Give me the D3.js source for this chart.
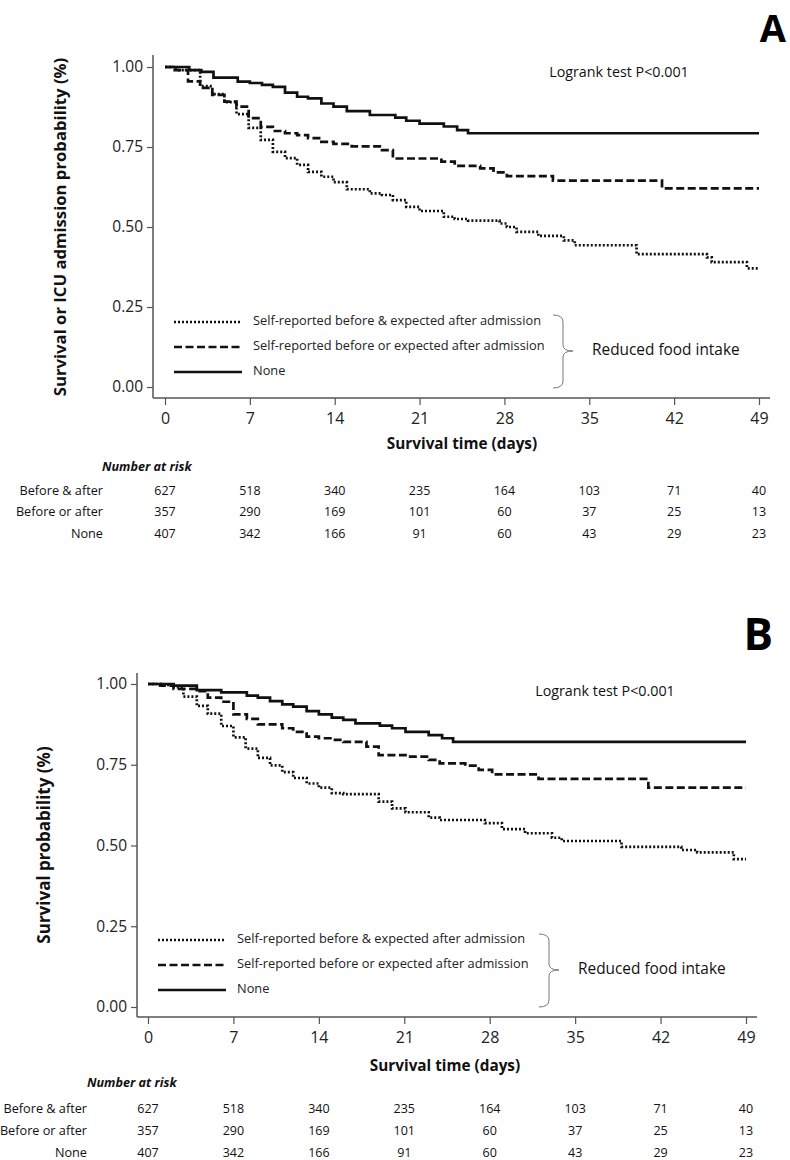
<!DOCTYPE html>
<html>
<head>
<meta charset="utf-8">
<script src="https://cdn.jsdelivr.net/npm/d3@7/dist/d3.min.js"></script>
<style>
  html, body { margin: 0; padding: 0; background: #fff; }
  svg { display: block; font-family: "Open Sans", sans-serif; }
</style>
</head>
<body>
<svg id="chart" width="790" height="1160"></svg>
<script>
// ---------- DATA ----------
const xTicks = [0, 7, 14, 21, 28, 35, 42, 49];
const yTicks = [0, 0.25, 0.5, 0.75, 1.0];
const groupLabels = ["Self-reported before & expected after admission",
                     "Self-reported before or expected after admission",
                     "None"];
const riskRowLabels = ["Before & after", "Before or after", "None"];
const riskBeforeAndAfter = [627, 518, 340, 235, 164, 103, 71, 40];
const riskBeforeOrAfter  = [357, 290, 169, 101, 60, 37, 25, 13];
const riskNone           = [407, 342, 166, 91, 60, 43, 29, 23];

// Panel A: survival or ICU admission  [day, probability]
const aBoth = [[0,1],[0.9,0.99],[2.9,0.94],[3.9,0.915],[4.9,0.89],[5.9,0.853],[6.9,0.81],
  [7.9,0.772],[8.9,0.735],[9.9,0.715],[10.9,0.694],[11.8,0.672],[12.9,0.657],[13.9,0.64],
  [15.0,0.618],[16.9,0.605],[17.9,0.60],[18.8,0.584],[19.9,0.563],[21.0,0.55],[23.0,0.532],
  [23.9,0.525],[25.0,0.52],[27.6,0.511],[28.2,0.50],[29.0,0.485],[30.8,0.472],[32.9,0.458],
  [33.8,0.443],[38.9,0.415],[44.7,0.405],[45.1,0.39],[48.0,0.371],[49,0.371]];
const aEither = [[0,1],[0.8,0.99],[1.9,0.955],[2.9,0.935],[3.9,0.913],[4.9,0.892],[5.9,0.876],
  [6.9,0.84],[7.9,0.813],[8.9,0.80],[9.9,0.793],[10.9,0.787],[11.8,0.778],[12.9,0.766],
  [13.9,0.76],[15.4,0.752],[17.9,0.74],[18.8,0.714],[22.8,0.704],[23.9,0.691],[26.0,0.683],
  [27.1,0.671],[28.2,0.659],[32.0,0.645],[41.0,0.621],[49,0.621]];
const aNone = [[0,1],[2.0,0.99],[3.0,0.985],[4.0,0.967],[6.0,0.954],[7.0,0.95],[8.0,0.944],
  [8.9,0.938],[9.9,0.92],[10.9,0.907],[11.8,0.902],[12.9,0.886],[13.9,0.876],[15.0,0.862],
  [16.9,0.85],[19.0,0.842],[19.9,0.832],[21.0,0.823],[23.0,0.814],[24.1,0.803],[25.0,0.793],[49,0.793]];

// Panel B: survival
const bBoth = [[0,1],[1.0,0.997],[2.1,0.99],[2.9,0.961],[4.0,0.932],[4.9,0.908],[6.0,0.87],
  [7.0,0.835],[8.0,0.80],[9.0,0.771],[10.0,0.748],[11.0,0.727],[11.9,0.709],[13.0,0.692],
  [14.0,0.679],[15.06,0.662],[16.0,0.659],[18.9,0.636],[20.0,0.615],[21.1,0.603],[23.0,0.586],
  [23.9,0.579],[27.6,0.569],[29.0,0.551],[30.9,0.538],[33.1,0.524],[33.9,0.514],[38.8,0.496],
  [43.7,0.486],[45.0,0.479],[48.0,0.458],[49,0.458]];
const bEither = [[0,1],[1.0,0.995],[2.1,0.985],[4.0,0.978],[4.9,0.958],[6.0,0.945],[7.0,0.906],
  [8.1,0.892],[9.0,0.875],[11.0,0.863],[11.9,0.852],[13.0,0.837],[14.0,0.832],[15.06,0.827],
  [16.0,0.821],[17.9,0.806],[18.9,0.78],[21.1,0.775],[23.0,0.765],[23.9,0.754],[26.0,0.747],
  [27.1,0.734],[28.2,0.72],[32.0,0.706],[41.0,0.679],[49,0.679]];
const bNone = [[0,1],[2.1,0.995],[4.0,0.981],[6.0,0.974],[8.1,0.964],[9.0,0.958],[10.0,0.947],
  [11.0,0.937],[11.9,0.93],[13.0,0.916],[14.0,0.906],[15.06,0.896],[16.0,0.889],[17.0,0.878],
  [19.0,0.871],[20.0,0.863],[21.1,0.852],[23.0,0.842],[24.1,0.832],[25.0,0.821],[49,0.821]];

// ---------- DRAW ----------
const svg = d3.select("#chart");
const dashStyles = ["2,2", "8,3.5", null];

function panel(cfg) {
  const g = svg.append("g");
  const x = d3.scaleLinear().domain([0, 49]).range(cfg.xRange);
  const y = d3.scaleLinear().domain([0, 1]).range(cfg.yRange);
  const axisColor = "#555";

  g.append("line").attr("x1", cfg.axisX).attr("x2", cfg.axisX)
    .attr("y1", cfg.axisTop).attr("y2", cfg.axisY)
    .attr("stroke", axisColor).attr("stroke-width", 1.5);
  g.append("line").attr("x1", cfg.axisX).attr("x2", cfg.axisRight)
    .attr("y1", cfg.axisY).attr("y2", cfg.axisY)
    .attr("stroke", axisColor).attr("stroke-width", 1.5);

  const yAxis = d3.axisLeft(y).tickValues(yTicks).tickFormat(d3.format(".2f"))
    .tickSize(6).tickPadding(4);
  const ya = g.append("g").attr("transform", `translate(${cfg.axisX},0)`).call(yAxis);
  ya.select(".domain").remove();
  ya.selectAll(".tick line").attr("stroke", axisColor).attr("stroke-width", 1.2);
  ya.selectAll(".tick text").attr("font-size", 15.5).attr("fill", "#222")
    .attr("font-family", "Open Sans");

  const xAxis = d3.axisBottom(x).tickValues(xTicks).tickSize(7).tickPadding(8);
  const xa = g.append("g").attr("transform", `translate(0,${cfg.axisY})`).call(xAxis);
  xa.select(".domain").remove();
  xa.selectAll(".tick line").attr("stroke", axisColor).attr("stroke-width", 1.2);
  xa.selectAll(".tick text").attr("font-size", 16).attr("fill", "#222")
    .attr("font-family", "Open Sans");

  const line = d3.line().x(d => x(d[0])).y(d => y(d[1])).curve(d3.curveStepAfter);
  cfg.series.forEach((s, i) => {
    g.append("path").datum(s).attr("d", line)
      .attr("fill", "none").attr("stroke", "#111").attr("stroke-width", 2.7)
      .attr("stroke-dasharray", dashStyles[i]);
  });

  g.append("text").attr("transform", `translate(${cfg.yLabelX},${cfg.yLabelY}) rotate(-90)`)
    .attr("text-anchor", "middle").attr("dominant-baseline", "middle")
    .attr("font-weight", "bold").attr("font-size", cfg.yLabelSize).attr("fill", "#111")
    .text(cfg.yLabel);
  g.append("text").attr("x", cfg.xTitleX).attr("y", cfg.xTitleY)
    .attr("text-anchor", "middle").attr("dominant-baseline", "middle")
    .attr("font-weight", "bold").attr("font-size", 15.3).attr("fill", "#111")
    .text("Survival time (days)");

  g.append("text").attr("x", cfg.letterX).attr("y", cfg.letterY)
    .attr("text-anchor", "end").attr("font-weight", "bold")
    .attr("font-size", cfg.letterSize).attr("fill", "#000").text(cfg.letter);

  g.append("text").attr("x", cfg.logX).attr("y", cfg.logY)
    .attr("text-anchor", "middle").attr("dominant-baseline", "middle")
    .attr("font-size", 14.3).attr("fill", "#111").text("Logrank test P<0.001");

  groupLabels.forEach((lab, i) => {
    const ly = cfg.legY[i];
    g.append("line").attr("x1", cfg.legX1).attr("x2", cfg.legX2)
      .attr("y1", ly).attr("y2", ly).attr("stroke", "#111").attr("stroke-width", 2.7)
      .attr("stroke-dasharray", dashStyles[i]);
    g.append("text").attr("x", cfg.legTextX).attr("y", ly)
      .attr("dominant-baseline", "middle").attr("font-size", 12.8).attr("fill", "#222")
      .text(lab);
  });

  const bx = cfg.braceX, bt = cfg.braceTop, bb = cfg.braceBottom, bm = cfg.braceMid;
  const path = `M${bx - 10},${bt} Q${bx},${bt} ${bx},${bt + 7} L${bx},${bm - 6} Q${bx},${bm} ${bx + 10},${bm} ` +
               `Q${bx},${bm} ${bx},${bm + 6} L${bx},${bb - 7} Q${bx},${bb} ${bx - 10},${bb}`;
  g.append("path").attr("d", path).attr("fill", "none").attr("stroke", "#777").attr("stroke-width", 1);
  g.append("text").attr("x", cfg.rfiX).attr("y", bm)
    .attr("dominant-baseline", "middle").attr("font-size", 15.4).attr("fill", "#111")
    .text("Reduced food intake");

  g.append("text").attr("x", cfg.narX).attr("y", cfg.narY)
    .attr("dominant-baseline", "middle").attr("font-weight", "bold").attr("font-style", "italic")
    .attr("font-size", 12.6).attr("fill", "#111").text("Number at risk");
  const rows = [riskBeforeAndAfter, riskBeforeOrAfter, riskNone];
  rows.forEach((vals, r) => {
    const ry = cfg.rowY[r];
    g.append("text").attr("x", cfg.rowLabelX).attr("y", ry)
      .attr("text-anchor", "end").attr("dominant-baseline", "middle")
      .attr("font-size", 12.7).attr("fill", "#111").text(riskRowLabels[r]);
    g.selectAll(null).data(vals).enter().append("text")
      .attr("x", (d, i) => x(xTicks[i])).attr("y", ry)
      .attr("text-anchor", "middle").attr("dominant-baseline", "middle")
      .attr("font-size", 12.5).attr("fill", "#111").text(d => d);
  });
}

panel({
  xRange: [165, 759], yRange: [387, 67],
  axisX: 153, axisTop: 55, axisY: 398, axisRight: 770,
  series: [aBoth, aEither, aNone],
  yLabel: "Survival or ICU admission probability (%)", yLabelX: 62, yLabelY: 227, yLabelSize: 16.7,
  xTitleX: 462, xTitleY: 445,
  letter: "A", letterX: 786, letterY: 42, letterSize: 38,
  logX: 619, logY: 73,
  legX1: 174, legX2: 242, legTextX: 253, legY: [322, 347, 372],
  braceX: 563, braceTop: 315, braceBottom: 388, braceMid: 351, rfiX: 592,
  narX: 102, narY: 468, rowLabelX: 103, rowY: [492, 513, 535]
});

panel({
  xRange: [148, 746], yRange: [1007, 684],
  axisX: 137, axisTop: 673, axisY: 1017, axisRight: 757,
  series: [bBoth, bEither, bNone],
  yLabel: "Survival probability (%)", yLabelX: 45, yLabelY: 845, yLabelSize: 17,
  xTitleX: 445, xTitleY: 1067,
  letter: "B", letterX: 773, letterY: 650, letterSize: 44,
  logX: 605, logY: 692,
  legX1: 158, legX2: 226, legTextX: 237, legY: [940, 965, 990],
  braceX: 549, braceTop: 934, braceBottom: 1007, braceMid: 970, rfiX: 578,
  narX: 87, narY: 1084, rowLabelX: 87, rowY: [1110, 1132, 1154]
});
</script>
</body>
</html>
